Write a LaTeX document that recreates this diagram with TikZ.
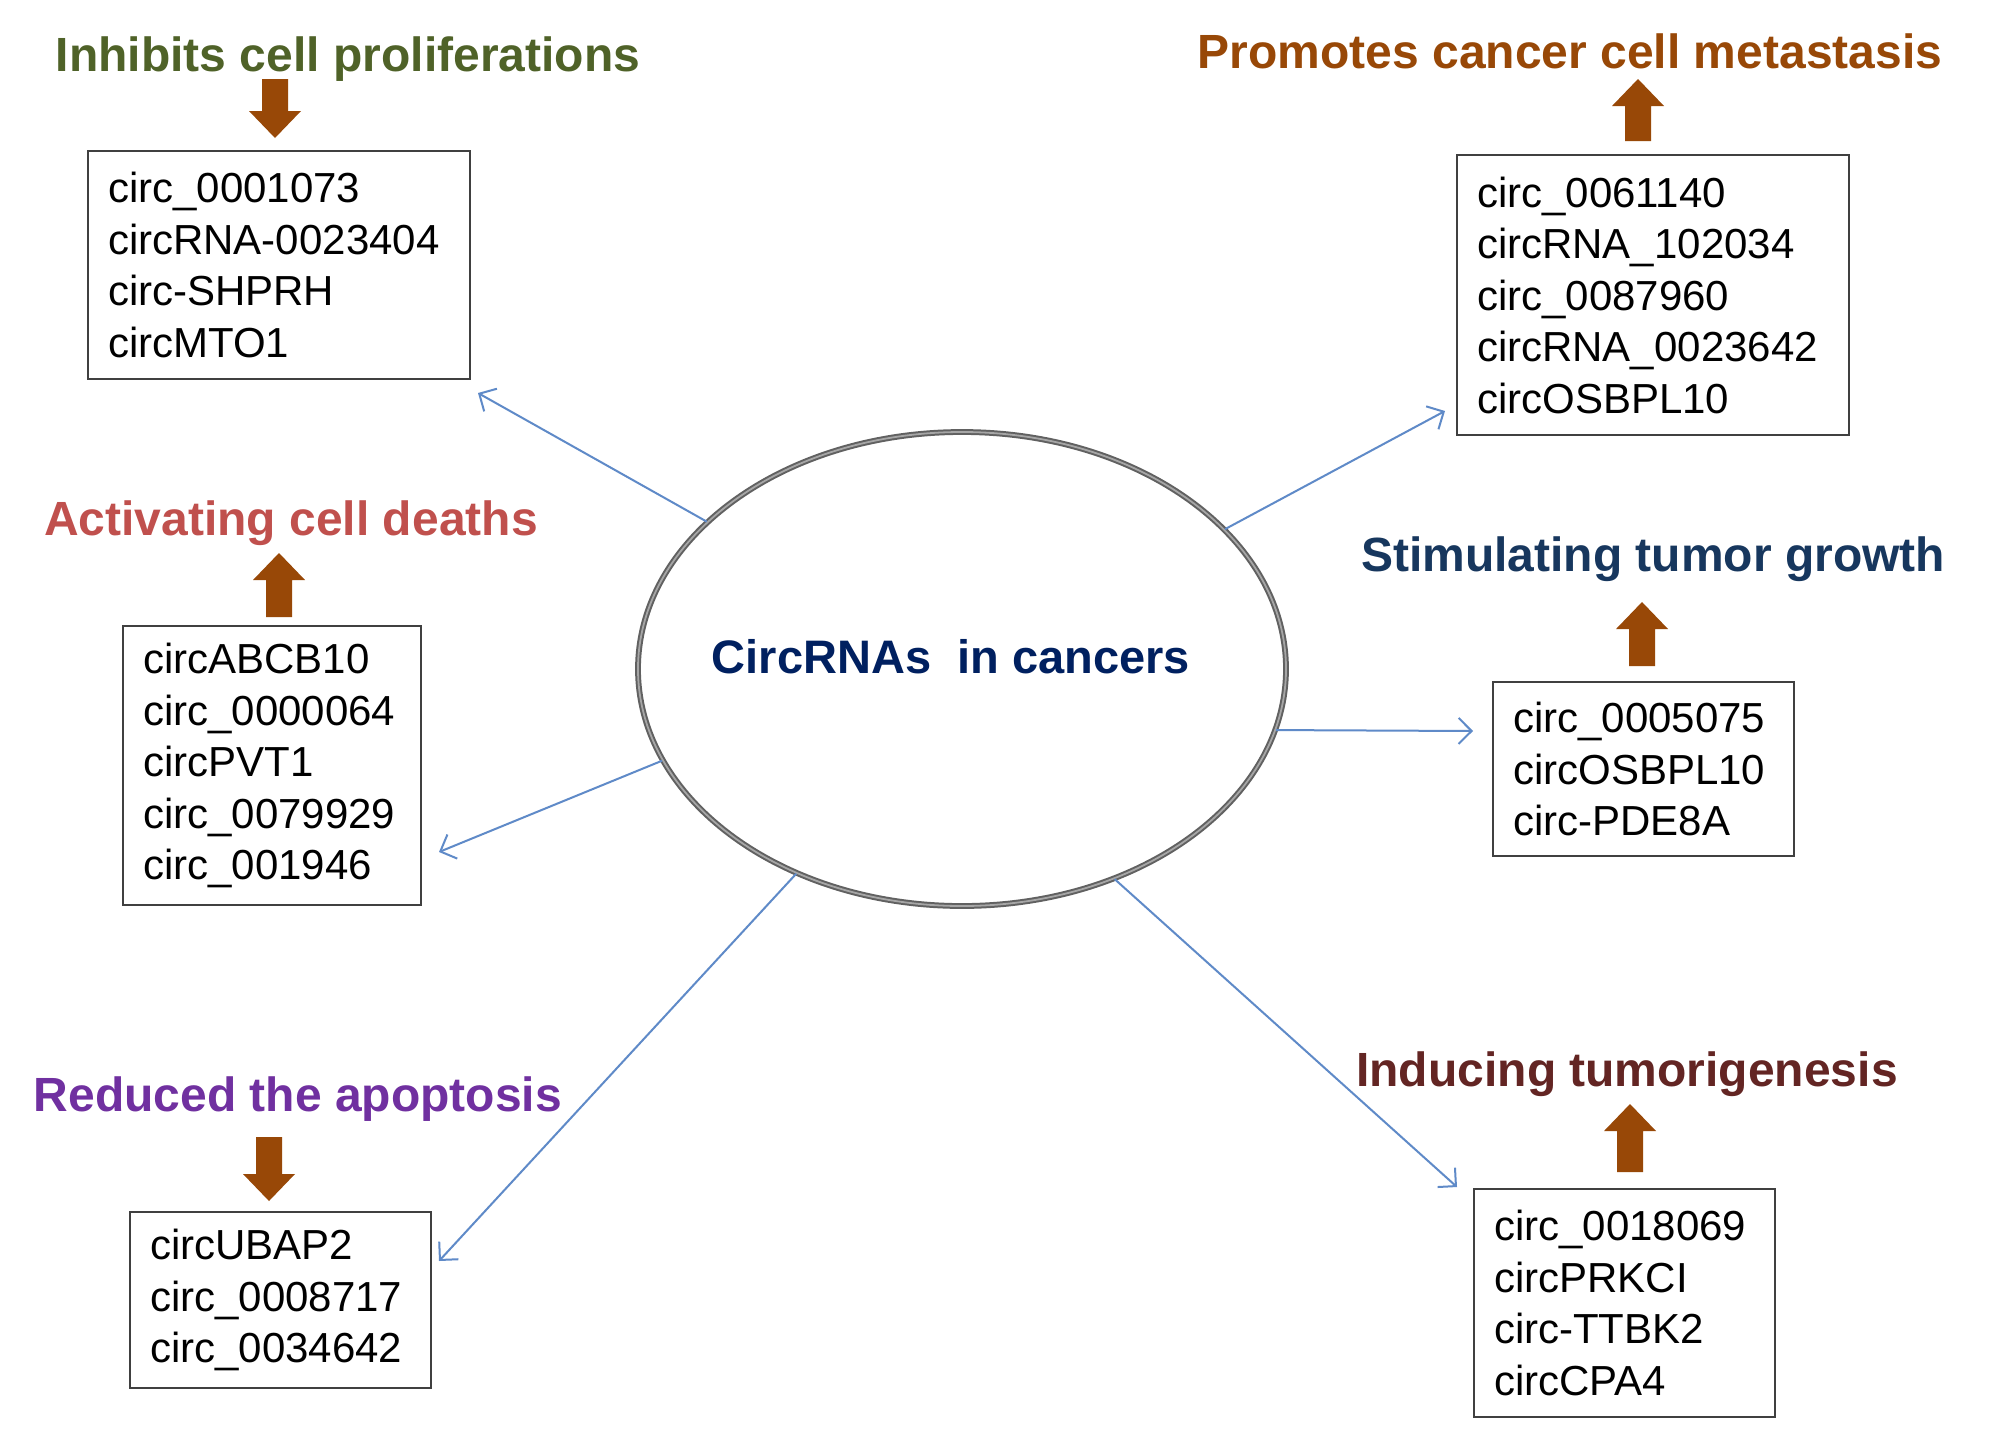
\documentclass[tikz,border=0pt]{standalone}
\usepackage{fontspec}
\setmainfont{Liberation Sans}
\usetikzlibrary{shapes.geometric,arrows.meta}
\definecolor{tgreen}{HTML}{4F6228}
\definecolor{torange}{HTML}{984807}
\definecolor{tred}{HTML}{C0504D}
\definecolor{tblue}{HTML}{17375E}
\definecolor{tpurple}{HTML}{7030A0}
\definecolor{tmaroon}{HTML}{632523}
\definecolor{cnavy}{HTML}{002060}
\definecolor{barrow}{HTML}{984807}
\definecolor{lblue}{RGB}{95,138,200}
\newcommand\brarrowdown[3]{\fill[barrow] (#1-13,#2) -- (#1+13,#2) -- (#1+13,#3-27) -- (#1+26,#3-27) -- (#1,#3) -- (#1-26,#3-27) -- (#1-13,#3-27) -- cycle;}
\newcommand\brarrowup[3]{\fill[barrow] (#1-13,#3) -- (#1+13,#3) -- (#1+13,#2+27) -- (#1+26,#2+27) -- (#1,#2) -- (#1-26,#2+27) -- (#1-13,#2+27) -- cycle;}
\tikzset{
  title/.style={font=\fontsize{48}{56}\selectfont\bfseries, inner sep=0pt},
  listbox/.style={draw=black!75, line width=2pt, align=left, inner xsep=20pt, inner ysep=0pt, anchor=north west, font=\fontsize{42}{51.5}\selectfont},
  conn/.style={draw=lblue, line width=2pt, -{Straight Barb[length=13pt,width=26pt,line width=2pt]}},
}
\begin{document}
\begin{tikzpicture}[x=1pt,y=-1pt]
\fill[white] (0,0) rectangle (2008,1430);
\useasboundingbox (0,0) rectangle (2008,1430);

% central ellipse
\node[ellipse, draw=black!62, double=black!35, double distance=1.8pt, line width=2pt, minimum width=648pt, minimum height=474pt, inner sep=0pt] (c) at (962,669) {};
\node[font=\fontsize{47}{56}\selectfont\bfseries, text=cnavy, inner sep=0pt] (ct) at (951,657) {CircRNAs\ \ in cancers};

% titles
\node[title, text=tgreen] (h1) at (348,59) {Inhibits cell proliferations};
\node[title, text=torange] (h2) at (1570,51) {Promotes cancer cell metastasis};
\node[title, text=tred] (h3) at (291,523) {Activating cell deaths};
\node[title, text=tblue] (h4) at (1653,559) {Stimulating tumor growth};
\node[title, text=tpurple] (h5) at (298,1099) {Reduced the apoptosis};
\node[title, text=tmaroon] (h6) at (1627,1074) {Inducing tumorigenesis};

% boxes
\node[listbox, text width=342pt, minimum height=228pt] (b1) at (87,150) {circ\_0001073\\circRNA-0023404\\circ-SHPRH\\circMTO1};
\node[listbox, text width=352pt, minimum height=280pt] (b2) at (1456,154) {circ\_0061140\\circRNA\_102034\\circ\_0087960\\circRNA\_0023642\\circOSBPL10};
\node[listbox, text width=258pt, minimum height=279pt] (b3) at (122,625) {circABCB10\\circ\_0000064\\circPVT1\\circ\_0079929\\circ\_001946};
\node[listbox, text width=261pt, minimum height=174pt] (b4) at (1492,681) {circ\_0005075\\circOSBPL10\\circ-PDE8A};
\node[listbox, text width=261pt, minimum height=176pt] (b5) at (129,1211) {circUBAP2\\circ\_0008717\\circ\_0034642};
\node[listbox, text width=261pt, minimum height=228pt] (b6) at (1473,1188) {circ\_0018069\\circPRKCI\\circ-TTBK2\\circCPA4};

% brown block arrows
\brarrowdown{275}{79}{138}
\brarrowup{1638}{79}{141}
\brarrowup{279}{553}{617}
\brarrowup{1642}{602}{666}
\brarrowdown{269}{1137}{1201}
\brarrowup{1630}{1104}{1172}

% connector tips
\coordinate (t1) at (478,393);
\coordinate (t2) at (1445,411);
\coordinate (t3) at (439,852);
\coordinate (t4) at (1473,731);
\coordinate (t5) at (439,1261);
\coordinate (t6) at (1457,1187);

\draw[conn] (c.150.3) -- (t1);
\draw[conn] (c.28.6) -- (t2);
\draw[conn] (c.197.6) -- (t3);
\draw[conn] (c.-11.1) -- (t4);
\draw[conn] (c.231.8) -- (t5);
\draw[conn] (c.-54.7) -- (t6);
\end{tikzpicture}
\end{document}
